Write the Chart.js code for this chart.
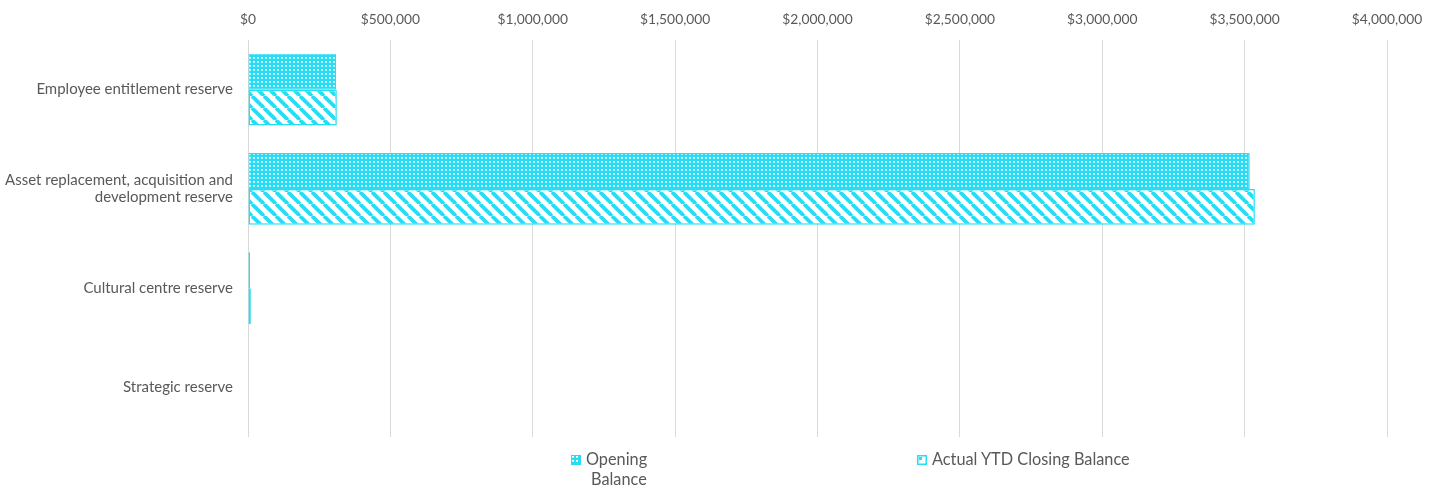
<!DOCTYPE html>
<html>
<head>
<meta charset="utf-8">
<script src="https://cdn.jsdelivr.net/npm/chart.js@4/dist/chart.umd.min.js"></script>
<style>
  html, body { margin: 0; padding: 0; background: #fff; }
  #wrap { position: relative; width: 1442px; height: 486px; }
  #c { position: absolute; left: 0; top: 0; }
  .leg { position: absolute; font-family: "Lato", sans-serif; font-size: 16.3px; color: #595959; line-height: 20px; white-space: nowrap; }
  .sw { position: absolute; width: 10px; height: 10px; }
</style>
</head>
<body>
<div id="wrap">
  <canvas id="c" width="1442" height="486"></canvas>
  <canvas class="sw" id="sw1" width="10" height="10" style="left:571px;top:455px;"></canvas>
  <div class="leg" style="left:586px;top:449px;">Opening</div>
  <div class="leg" style="left:591px;top:469px;">Balance</div>
  <canvas class="sw" id="sw2" width="10" height="10" style="left:917px;top:455px;"></canvas>
  <div class="leg" style="left:932px;top:449px;">Actual YTD Closing Balance</div>
</div>
<script>
const categories = [
  "Employee entitlement reserve",
  ["Asset replacement, acquisition and", "development reserve"],
  "Cultural centre reserve",
  "Strategic reserve"
];
const seriesNames = ["Opening Balance", "Actual YTD Closing Balance"];
const openingBalance = [309000, 3518000, 7000, 0];
const closingBalance = [312000, 3536000, 10000, 0];
const tickMax = 4000000;
const tickStep = 500000;

const CYAN = "#27DDF3";

function dotPattern() {
  const t = document.createElement("canvas");
  t.width = 4; t.height = 4;
  const g = t.getContext("2d");
  g.fillStyle = CYAN; g.fillRect(0, 0, 4, 4);
  g.fillStyle = "#ffffff";
  g.fillRect(1, 1, 2, 1);
  g.fillStyle = "#b8f3fb";
  g.fillRect(1, 2, 2, 1);
  return t;
}
function stripePattern() {
  const s = 12;
  const t = document.createElement("canvas");
  t.width = s; t.height = s;
  const g = t.getContext("2d");
  g.fillStyle = "#ffffff"; g.fillRect(0, 0, s, s);
  g.strokeStyle = CYAN; g.lineWidth = 3.8;
  for (let k = -1; k <= 1; k++) {
    g.beginPath();
    g.moveTo(k * s, 0);
    g.lineTo(k * s + s, s);
    g.stroke();
  }
  return t;
}

const ctx = document.getElementById("c").getContext("2d");
const pDots = ctx.createPattern(dotPattern(), "repeat");
const pStripes = ctx.createPattern(stripePattern(), "repeat");

(function () {
  const a = document.getElementById("sw1").getContext("2d");
  a.fillStyle = a.createPattern(dotPattern(), "repeat"); a.fillRect(0, 0, 10, 10);
  a.strokeStyle = CYAN; a.lineWidth = 1; a.strokeRect(0.5, 0.5, 9, 9);
  const b = document.getElementById("sw2").getContext("2d");
  b.fillStyle = "#ffffff"; b.fillRect(0, 0, 10, 10);
  b.fillStyle = CYAN; b.fillRect(2, 2, 3, 3);
  b.strokeStyle = CYAN; b.lineWidth = 1.5; b.strokeRect(0.75, 0.75, 8.5, 8.5);
})();

new Chart(ctx, {
  type: "bar",
  data: {
    labels: categories,
    datasets: [
      { label: seriesNames[0], data: openingBalance, backgroundColor: pDots, borderColor: CYAN, borderWidth: 1, borderSkipped: false },
      { label: seriesNames[1], data: closingBalance, backgroundColor: pStripes, borderColor: CYAN, borderWidth: 1.5, borderSkipped: false }
    ]
  },
  options: {
    indexAxis: "y",
    responsive: false,
    animation: false,
    layout: { padding: { left: 0, right: 55, top: 0, bottom: 49 } },
    datasets: { bar: { categoryPercentage: 0.725, barPercentage: 1 } },
    plugins: { legend: { display: false }, tooltip: { enabled: false } },
    scales: {
      x: {
        position: "top",
        min: 0, max: tickMax,
        afterFit: (s) => { s.height = 40; },
        ticks: {
          stepSize: tickStep,
          color: "#595959",
          font: { family: "Lato, sans-serif", size: 13.8 },
          padding: 12,
          callback: (v) => "$" + Number(v).toLocaleString("en-US")
        },
        grid: { color: "#d9d9d9", lineWidth: 1, drawTicks: false },
        border: { display: false }
      },
      y: {
        afterFit: (s) => { s.width = 248; },
        ticks: { color: "#595959", font: { family: "Lato, sans-serif", size: 15, lineHeight: 1.15 }, padding: 15 },
        grid: { display: false, drawTicks: false },
        border: { display: false }
      }
    }
  }
});
</script>
</body>
</html>
